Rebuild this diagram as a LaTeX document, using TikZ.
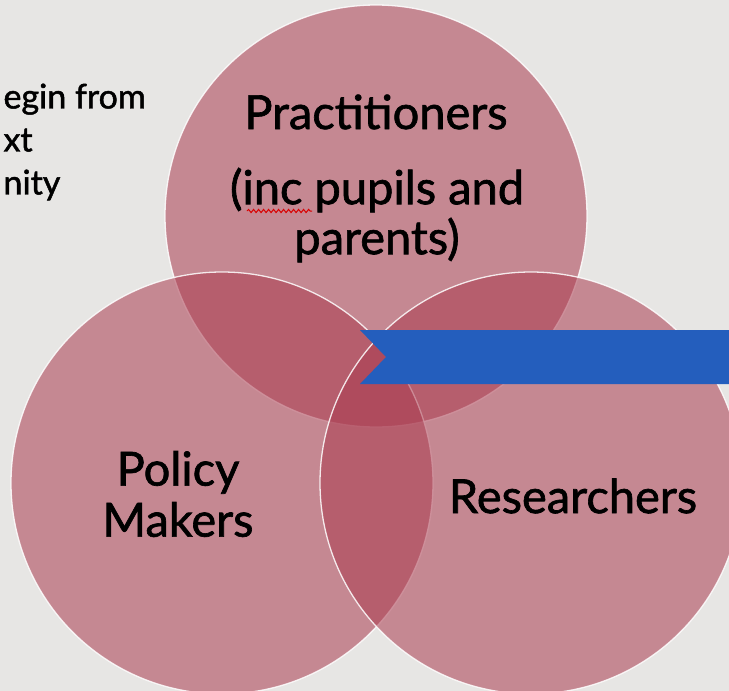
\documentclass[tikz,border=0pt]{standalone}
\usepackage{fontspec}
\setmainfont{Lato}[FakeBold=1.4]
\usetikzlibrary{shapes,arrows,decorations.pathmorphing}
\definecolor{slidebg}{RGB}{231,230,228}
\definecolor{venn}{RGB}{170,60,80}
\definecolor{banner}{RGB}{36,94,189}

\begin{document}
\begin{tikzpicture}[x=1pt,y=-1pt,
		ring/.style={circle, minimum size=422pt, inner sep=0pt, % one set of the diagram
			fill=venn, fill opacity=0.55, draw=white, draw opacity=0.85, line width=1.3pt},
		setname/.style={font=\fontsize{47}{51}\selectfont, align=center, text=black}]
		\def\w{729} % width of the slide part
		\def\h{691} % height of the slide part
		\useasboundingbox (0,0) rectangle (\w,\h);
		\clip (0,0) rectangle (\w,\h);
		\fill[slidebg] (0,0) rectangle (\w,\h);
		
		% the three sets
		\node[ring] (prac) at (376,216) {};
		\node[ring] (policy) at (222,483) {};
		\node[ring] (research) at (531,483) {};
		
		% banner over the middle
		\fill[banner] (360,330) -- (\w,330) -- (\w,384) -- (360,384) -- (386,357) -- cycle;
		
		% cut off text on the left
		\node[anchor=west, align=left, font=\fontsize{34}{43}\selectfont] (lefttxt) at (0,142) {egin from\\xt\\nity};
		
		\node[setname] (practxt) at (376,112) {Practitioners};
		\node[setname, font=\fontsize{47}{50}\selectfont] (inctxt) at (377,215) {(inc pupils and\\parents)};
		\node[setname] (policytxt) at (178,494) {Policy\\Makers};
		\node[setname] (researchtxt) at (573,496) {Researchers};
		
		% spelling mark under inc
		\draw[red!85!black, line width=1pt, decorate, decoration={snake, amplitude=1.6pt, segment length=5pt}] (247,211) -- (312,211);
	\end{tikzpicture}
\end{document}
